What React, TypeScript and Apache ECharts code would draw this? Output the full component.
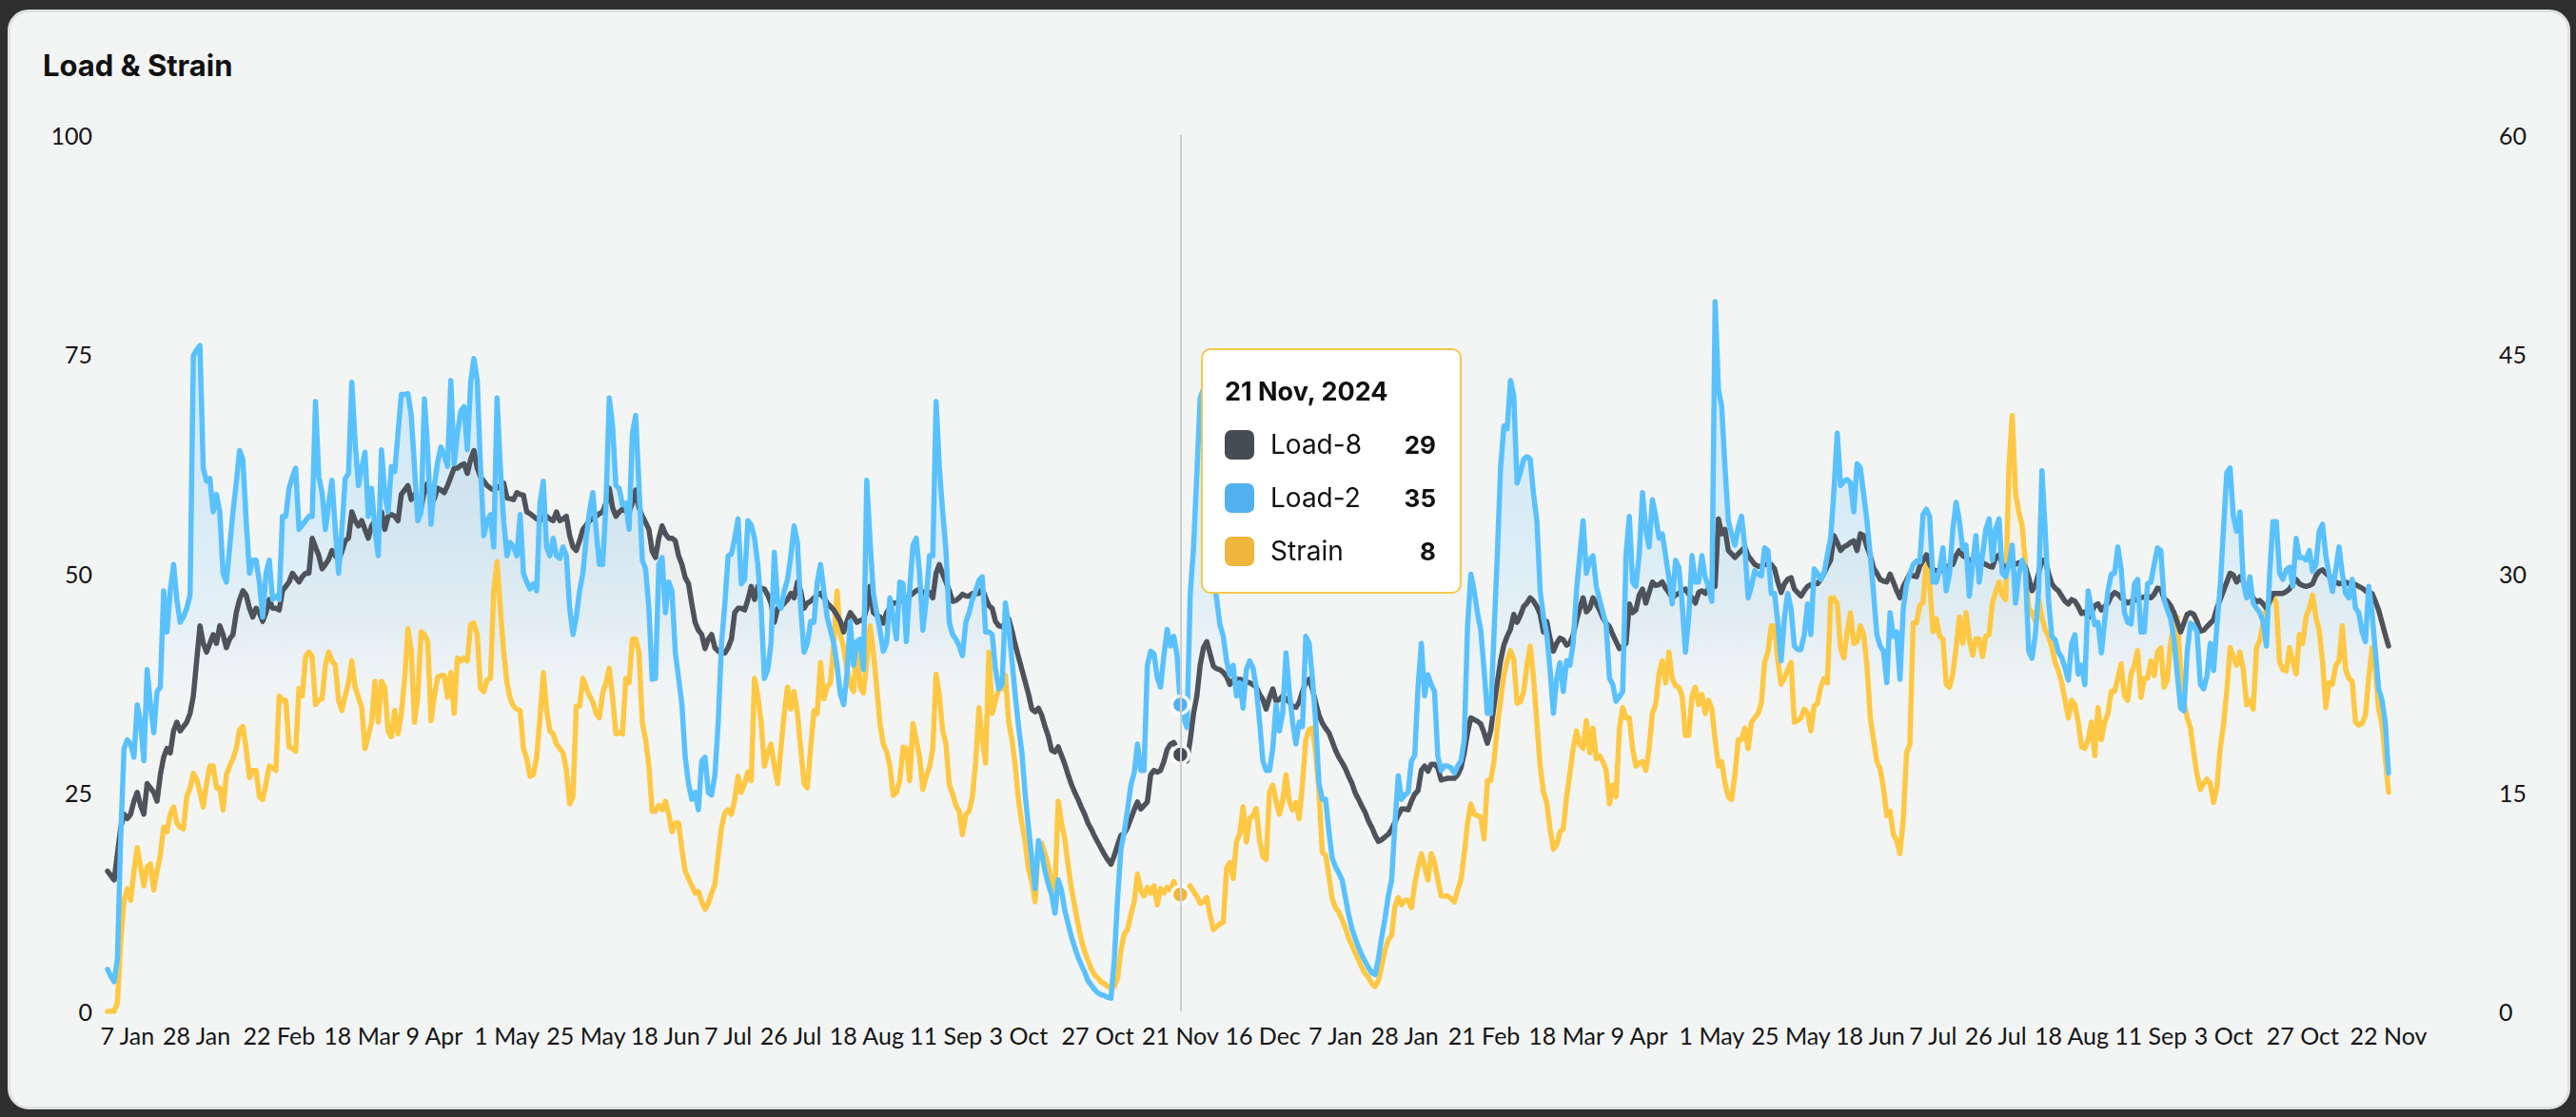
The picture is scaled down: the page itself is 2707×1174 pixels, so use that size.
import React, { useEffect, useRef } from "react";
import * as echarts from "echarts";

// ---------- DATA ----------
const START_DATE = "2024-01-01";

const LOAD8: number[] = [
  // 2024-01-01 .. 2024-04-21 (0-111)
  16,15.5,15,18,21,22.5,22,22.5,24,25, 23.5,22.5,26,25.5,25,24,27,29,30,29.5,
  32,33,32,32.5,33,34,36,40,44,42, 41,42,43,42,44,43,41.5,42.5,43,45.5,
  47,48,47.5,46,45,46,45.5,44.5,45.5,47, 46,46,45.8,48,48.5,49,50,49.5,49,49.6,
  50,50,54,53,52,50.5,51,51.6,52.6,52, 51.5,52.5,53.7,54,57,56,55.4,56,55,54,
  55.4,56,56,57,55,56.5,56.7,56.5,56,59, 59.5,60,58.4,59,58.5,57.5,59.5,60.3,58,58.5,
  59.7,59.5,59.2,60,61,62,62,62.3,62.5,61.4, 63,64,
  // 112-229
  62,61,60.5,60,59.7,59.5,59.7,60,60.3,58.6, 58.5,58.4,59.2,59,58.9,57,56.8,56.5,56.2,56,
  56.7,56.5,56.2,56,57,56,56.2,56.5,54.3,53, 52.6,53.7,55,55.5,56,56.3,56.5,56.8,57,58,
  59.7,57.5,56.5,57,57.3,57.1,57,58,59.5,57.5, 56.5,55.8,55,52.5,51.8,54,55.4,54.5,54,54,
  53.7,52,51,49.5,48.8,46.5,44.4,43.5,43,41.4, 42.5,43,41.5,41.1,41,40.9,41.5,42.5,45.5,46,
  46,45.8,47,48.5,47,48.5,48.3,48.2,47.5,46.6, 44.4,46,46.2,46.6,47,47.7,47.2,49,48,46,
  46.6,46.8,47.2,47.5,47.7,47.2,46.6,46.2,45.8,45.2, 44.5,43.3,44.5,45.5,45,44.4,44.6,44.7,
  // 230-345
  46,48.5,45.5,45.2,45,44.3,45.5,46,46.6,46.6, 46.8,47.2,47.2,47.4,47.7,48,48.2,47.7,48,47.8,
  47.2,50,51,49.9,49,48,46.8,46.9,47.2,47.6, 47.4,47.4,47.7,47.7,47.7,48.2,47.2,46.3,46,44.5,
  44,43.9,44.2,44.8,43.4,41.8,40.4,39,37.6,36.2, 34.5,34.2,34.6,33.8,32.5,31.4,29.8,29.6,30.2,29.2,
  28.2,27,25.9,25,24.2,23.3,22.5,21.5,20.8,20, 19.3,18.6,17.9,17.3,16.8,17.8,19,20.1,20.3,21,
  22,23,23.9,23.1,23.5,23.9,27,27.5,27.3,27.5, 28.5,29.9,30.5,30.7,29.9,29.3,29.5,28.6,31,34,
  36,39.5,41.5,42.2,40.8,39.4,39.1,39,38.7,38.2, 37.3,37.8,37.9,37.9,37.8,37.6,
  // 346-460
  37.5,37.3,37,36.2,35.6,34.5,35.8,36.8,35.4,35.6, 36,35.7,35.3,34.8,34.7,35.3,36.5,37.5,37.9,36.8,
  35.2,33.8,32.9,32.3,31.8,30.8,29.8,29,28.4,27.7, 26.8,26,24.9,24.2,23.4,22.7,21.7,21,20.1,19.4,
  19.6,19.9,20.2,20.8,21.6,22.4,23.1,23.1,23,24, 24.8,25.2,27.5,28,27.4,28.2,28.2,27.8,26.4,26.5,
  26.6,26.6,26.6,27,27.8,29.5,31.8,33.5,33.3,33.1, 32.8,31.8,30.6,32,34.8,37.5,40,41.8,42.8,43.6,
  45.3,44.4,45.2,46.2,46.6,47.2,46.8,46.2,45.3,43.3, 44.5,42.5,41.1,42,42.6,42.4,41.8,42,43,44.6,
  46,47.2,45.6,46,47.2,46.5,45.8,44.9,44.3,43.9, 43,42.2,41.4,41.6,42,
  // 461-576
  46.5,45.5,45.8,47.5,48.2,46.6,47.8,49,48.6,48.7, 49,48.3,47.8,47.2,47.5,47.7,48,48.2,47.6,47.2,
  46.6,47.8,48,47.7,48.3,48.8,48.5,56.2,54.5,55, 52.6,52.2,51.8,52.2,52.6,53,52,51.5,51,50.8,
  50.8,51,51,51,50.5,49,47.8,48.8,49.3,49.5, 48.2,47.8,47.4,48,48.5,48.7,48.8,48.8,49.3,50,
  50.8,51.5,54.3,53.5,52.6,53,53.2,53.5,53.7,52.6, 54.5,54.3,53,52,50.6,50,49.3,49.1,49,49.9,
  49,48,47.2,48.5,49.2,49.9,49.7,49.6,50.8,51.5, 52.1,51,50.4,50.3,50.2,50.5,50.7,50.9,51,52,
  52.6,52,51.8,51.5,51.3,51.5,51.4,51.2,51,50.8, 50.7,51.8,52.1,51,50.4,51,
  // 577-691
  51.3,51,51.2,51,50.7,49.5,48,48.6,50,51.5, 51.5,50,48.8,48.3,48,47.4,46.8,46.5,47,46.8,
  46.2,45.4,45.6,44.9,45.5,46.3,46.5,45.8,46.2,46.6, 47.4,47.8,47.6,47.2,46.9,46.6,46.8,46.9,47.1,47.2,
  47.3,47.4,47.2,47.6,48.3,48.2,47.1,46.8,46.3,45.5, 44.4,43.3,44.3,45.3,45.5,45.3,44.5,43.4,43.5,43.9,
  44.3,44.7,46,47,48,49,50,49.8,49,49.6, 49,48.1,47.7,47.2,46.7,46.9,46.5,46,46.8,47.7,
  47.7,47.7,47.7,47.9,48.2,48.8,49.3,48.8,48.6,48.5, 48.6,48.8,49.7,50.2,50.4,50,49.7,49.3,49,48.8,
  48.9,49,48.8,48.8,48.7,48.5,48.3,48,47.7,47.7, 46.8,45.8,44.4,43,41.7,
];

const LOAD2: number[] = [
  // 0-111
  4.8,4,3.4,6,20,30,31,30.5,29,35, 33,28.6,39,35,31.8,36.5,37,48,43.3,48,
  51,47,44.4,45,46,47.5,74.8,75.5,76,62, 60.5,60.8,57,59,57,50,49,53,57,60.3,
  64,63,56,50,51.5,51.5,49,45,50,51.5, 47,47.4,47,56.5,56.5,59.7,61,62,55,55.5,
  56,56.5,56.5,69.6,61,59.2,55,58,60.6,55, 50,55,60.8,61.4,71.8,65,60,62,63.8,56.5,
  59.7,55,52,64.1,59,57,62.2,61.6,66,70.4, 70.4,70.5,68,62,56,57,69.9,64,55.6,60,
  62.7,64.4,63.5,62.2,72,62.5,66,68.5,69,64.1, 71.8,74.5,
  // 112-229
  72,62,54.3,56,56.7,53,70,62,56,52, 53.5,53,52,56.7,50,49,48.2,48.8,48,58,
  60.5,53,52,54,52,51.7,53,52,46,43, 45,48,50,54,57,59.2,55,51,51,58,
  70,66.8,60,59.7,57.8,58,55,66,68,60, 51.5,50.5,46,37.9,38,51,51.8,45.5,49,48,
  41,38,35,29,26,24.2,25,23,28.6,29, 25,24.7,27,33,42,46.5,52,52.2,54,56.2,
  48.8,49.3,56,55.5,54,51,46,38,39,42, 52.4,46.6,46,48,49.3,52,55.4,53.5,46,41,
  42,44.5,44.4,49,51,48,45,43.5,42,39.5, 36.2,35,38.5,44.5,39.5,42.2,42.5,39,
  // 230-345
  60.6,53.7,47.7,45.5,43.5,41.1,42,47.2,45,42.5, 49,48.8,42.2,48.2,53.2,54,50,43.5,47,52,
  52,69.6,62,57,52.6,44.4,43,42.5,41.7,40.6, 44.4,45.5,47,48,49.2,49.6,43.3,43.3,43,39,
  36.8,37.3,46.6,44,40,36,32.5,29.5,24.7,21, 17.5,14,19.5,18,16,14.5,13.3,11.2,15,13.8,
  11.5,10,8.5,7.3,6.2,5.3,4.5,3.5,3,2.5, 2.1,1.9,1.8,1.6,1.5,6,13,18.5,20.5,23,
  25.8,27.2,30.5,27.5,27.5,39.5,41.1,40.8,38.1,37, 40.6,43.6,41.7,42.8,40.6,35,33.5,32.4,47.7,53,
  61.4,70,71,62,55,50,47,44.1,42.8,40, 38.4,39.5,36,37.5,34.6,39,
  // 346-460
  40,39.2,37,33,28.6,27.5,27.5,30,35,32, 34,40.9,36.6,33,30.5,33,32.5,42.8,42,38,
  33,26,24.2,24.2,20.5,17.5,16.5,15.8,15,13, 11,9.4,8.3,7.3,6.4,5.7,5,4.4,4.2,6,
  8.5,10.6,13.2,15,21.4,26.9,24.2,24.7,25,28.6, 29.2,37,42,36,38.4,37.3,36.5,29.1,27.5,28,
  28,27.8,27.2,28,28.6,31,44,49.9,48,45.5, 43.5,39,34,34,43,52,62,66.8,66.5,72,
  70.3,60.3,61.5,63,63.3,63,59,56,48,45, 43,39,34,38,39.8,36.5,40,39.5,42,48,
  52,56,50,51.5,52,48.5,47,45.5,44.1,38, 37.3,35.4,35.9,36.5,52,
  // 461-576
  56.5,49,48.5,52.1,59.2,55,53,58.4,56.5,54, 54.5,52,49.5,46.5,51.5,50.7,46.6,41,45,52,
  49,49,52,49.5,48.5,46.8,81,71,69,62, 56,54.5,53.2,55.2,56.5,53,47.2,48.5,50.3,49.9,
  49.7,52.9,52.6,47.7,47.7,44.4,40,45,47.7,46, 41.7,41.3,41.3,43,46.5,43,50.5,50,49.3,50,
  52.1,54,59.5,66,60,60.5,60.7,60.3,57,62.5, 62,59,56,52,47.7,43,41.7,41.1,37.5,45.5,
  42.8,43.3,37.9,46,48.8,49.9,51,51.4,51.3,56.7, 57.3,56.5,49,49,50.4,52.9,48,49.9,55,58.1,
  56,52.8,53.2,47.4,51,54.3,49,52.1,55,56.2, 51.5,55.1,56.2,50,49.6,51,
  // 577-691
  53.2,46.6,49.9,51.5,50.4,41.1,40.3,43,48,61.7, 54.8,47,42.8,42.4,41,40.4,39.2,37.8,42,43,
  38.5,39.5,37.3,48,46,44.1,44.4,40.9,44.5,48, 49.9,50,53,50.5,45.5,44.4,44.2,48.8,49.3,43.3,
  43.3,48.8,49,51,52.9,52.6,47,45.8,44.8,42.5, 38.5,34.6,34.3,41,44.3,44,43.3,37.3,36.8,38.3,
  42,38.9,44,48.5,55,61.5,62,56.5,54.8,57, 49,47.2,49.6,46.6,46,45.5,44.5,41.7,50,55.9,
  55.9,50,49.3,50.4,50.7,48.5,54,51.8,51.8,51.5, 52.6,50.2,51,54.8,55.6,52,49.9,47.9,50.4,53,
  50,47.7,47.2,49.3,46,45.5,43.3,42.2,48.5,45.5, 41.1,36.8,35.6,33,27.2,
];

const STRAIN: number[] = [
  // 0-111
  0,0,0,0.6,4.8,7.6,8.4,7.6,9.6,11.2, 9.9,8.6,9.9,10.1,8.3,9.6,10.7,12.6,12.3,13.5,
  14,12.9,12.6,12.5,14.7,15.3,16.3,15.9,15,14, 15.6,16.8,16.8,15.3,15.3,13.8,16.2,16.8,17.3,18,
  19.3,19.5,18,16,16.5,16.5,14.7,14.5,15.6,16.8, 16.7,16.5,21.6,21.3,21.3,18.1,18,17.8,22.1,21.6,
  24.3,24.6,24.3,21,21.3,21.4,23.7,24.6,24,23.7, 21.3,20.6,21.6,22.5,24,22.2,21.5,20.8,18,18.9,
  19.8,22.6,19.8,22.6,22.2,19.2,18.8,20.6,19,20.4, 22.7,26.2,24.7,19.8,21.6,26,25.8,25.3,19.9,21.6,
  22.9,23,23,21.5,23.2,20.4,24.2,24,24.2,24, 26.5,26.6,
  // 112-229
  25.8,22.1,21.9,22.7,22.8,28.8,30.8,27.6,24.6,22.5, 21.4,20.9,20.7,20.6,18,17.3,16.1,16.2,17.4,20.1,
  23.2,20.7,19.2,19,18.3,18,17.7,16.5,14.2,14.7, 20.9,20.9,22.8,22.2,21.6,21.2,20.4,20.1,21.8,22.5,
  23.5,21.5,19,19.1,19,22.8,22.5,25.5,25.5,24.6, 19.8,18.6,16.8,13.7,13.7,14.1,13.8,14.4,13.5,12.3,
  12.9,12.9,11.1,9.6,9.1,8.6,8.1,8.2,7.5,7, 7.4,8.1,8.7,10.7,12.6,13.6,13.8,13.5,14.5,16.1,
  15,15.6,16.4,15.8,22.8,21.6,19.8,16.8,17.7,18.3, 16.8,15.6,18,20.4,22.2,20.7,21.9,20.4,18,15.6,
  15.3,18,20.6,20.4,23.9,21.4,22.2,22.5,25.2,28.8, 25.8,24.9,23.4,22.4,21.9,25.2,22.2,21.8,
  // 230-345
  24,26.4,24.6,22.2,19.7,18.3,17.8,16.8,14.8,15, 15.8,18.1,18,15.8,19.7,18.6,17.4,15.2,16.1,16.7,
  18,23.1,21.6,19.2,18.3,15.5,14.9,14.1,13.7,12.1, 13.5,13.7,14.7,17.1,20.8,18.6,17,24.6,20.4,21.3,
  22.1,22.1,23,19.8,18.6,16.8,14.4,12.9,11.6,9.7, 8.9,7.5,11.4,11.5,10.8,9.9,8.8,8.3,14.4,12.9,
  11.8,10,8.4,7.2,6,4.9,4.1,3.5,2.9,2.5, 2.3,2,1.9,1.7,1.6,1.7,2.3,4.2,5.3,5.6,
  6.6,7.5,9.4,8.3,7.9,8.5,8.1,8.6,7.3,8.4, 8.1,8.5,8.3,8.9,8.3,8,7.9,8.3,8.6,8.2,
  7.9,7.4,7.5,7.8,6.6,5.6,5.8,6,6.1,9.8, 10.2,9.1,11.6,12.2,14,11.6,
  // 346-460
  13.2,13.4,13.9,11.7,10.6,10.4,15,15.5,14.4,13.5, 14.4,16.2,14.4,13.8,14.3,13.2,15.6,18.6,19.3,19.4,
  17.7,15,10.9,10.7,9.3,7.7,7.1,6.8,6.3,5.7, 5,4.5,4,3.5,3,2.6,2.3,1.9,1.7,2.1,
  3.1,4.2,4.9,5.2,7.2,7.8,7.3,7.6,7.6,7.1, 8.7,9.9,10.8,9.9,9,10.8,10.2,9,7.9,7.9,
  7.9,7.7,7.5,8.3,9,10.8,12.9,14.2,13.5,13.4, 13.3,11.8,15.8,15.8,17.1,19.4,21.3,23,24,24.7,
  24.1,21.1,21.2,21.9,23.7,25,22.8,19.8,16.8,15, 14.3,12.5,11.1,11.4,12.3,12.5,14.7,16.3,18,19.2,
  18.3,18,19.9,17.7,19.4,17.3,17.5,17.1,16.5,14.2, 15.5,14.7,19.4,20.8,20.1,
  // 461-576
  20.1,18,16.8,17,17.1,16.5,18,20.4,21,23.1, 24,22.5,24.6,22.8,22.3,22.2,21.6,18.9,18.9,21.6,
  22.2,21,21.7,20.4,21.3,20.7,18.6,16.8,17.1,15.6, 14.7,14.5,16.2,18.6,18.6,19.4,18,19.8,20.1,20.4,
  21.1,23.9,24.6,26.4,26.4,24,22.4,22.8,23.4,23.9, 19.8,19.9,20.1,20.7,20.4,19.2,20.9,21.1,22.2,22.8,
  22.5,28.3,28.3,27.9,24.9,24.2,26,27.3,25.2,25.3, 26.4,25.8,23.7,20.1,18.6,17.1,16.6,15.3,13.4,13.7,
  12.1,11.7,10.8,13.2,17.7,18.3,26.6,26.6,27.8,28, 30.9,29.3,26,26.9,25.7,25.5,22.4,22.2,23.1,24.9,
  27,25.2,27.3,25.5,24.4,25.5,25.5,24.3,25.7,25.8, 28,28.7,29.4,28.5,28.2,37.2,
  // 577-691
  40.8,35.5,34.2,33.3,30.6,27.6,27.3,26.7,28.2,27, 26.1,25.7,24.9,23.9,23.3,22.5,21.3,20.1,21.3,21,
  19.8,18.1,18,18.6,19.8,17.5,20.8,18.6,19.8,20.4, 21.9,21.9,22.8,23.8,21.6,21.3,23.1,23.7,24.7,21.5,
  22.8,22.8,24,23,24.6,24.9,22.2,22.7,25.3,26.6, 27,23.4,21.2,20.1,19.4,17.7,16.2,15.2,15.6,15.9,
  15.6,14.3,15.3,18,19.6,21.9,24.9,24.3,23.7,24.6, 23.4,21,21.3,20.7,24.9,25.4,26.7,27.6,28,28.5,
  27.9,23.9,23.4,23.3,24.9,24,23.1,25.8,25.2,27, 27.6,28.5,27,26.1,24,20.8,22.5,22.4,23.7,24,
  26.4,23.4,22.8,22.6,19.8,19.6,19.7,20.3,22.8,24.9, 23.4,20.7,19.7,17.4,15,
];

const TICK_DATES: string[] = [
  "2024-01-07","2024-01-28","2024-02-22","2024-03-18","2024-04-09","2024-05-01",
  "2024-05-25","2024-06-18","2024-07-07","2024-07-26","2024-08-18","2024-09-11",
  "2024-10-03","2024-10-27","2024-11-21","2024-12-16","2025-01-07","2025-01-28",
  "2025-02-21","2025-03-18","2025-04-09","2025-05-01","2025-05-25","2025-06-18",
  "2025-07-07","2025-07-26","2025-08-18","2025-09-11","2025-10-03","2025-10-27","2025-11-22",
];
const LEFT_AXIS = { min: 0, max: 100, step: 25 };
const RIGHT_AXIS = { min: 0, max: 60, step: 15 };
const TOOLTIP_DATE = "2024-11-21";
const SERIES_NAMES = ["Load-8", "Load-2", "Strain"];

// ---------- helpers ----------
const MONTHS = ["Jan","Feb","Mar","Apr","May","Jun","Jul","Aug","Sep","Oct","Nov","Dec"];
function buildDates(start: string, n: number): string[] {
  const [y, m, d] = start.split("-").map(Number);
  const out: string[] = [];
  for (let i = 0; i < n; i++) {
    out.push(new Date(Date.UTC(y, m - 1, d + i)).toISOString().slice(0, 10));
  }
  return out;
}
const fmtShort = (iso: string) => {
  const [, m, d] = iso.split("-").map(Number);
  return `${d} ${MONTHS[m - 1]}`;
};
const fmtLong = (iso: string) => {
  const [y, m, d] = iso.split("-").map(Number);
  return `${d} ${MONTHS[m - 1]}, ${y}`;
};

const C_LOAD8 = "#474B53";
const C_LOAD2 = "#52B0EE";
const C_STRAIN = "#EFB63E";
const FONT = "Inter, 'Noto Sans', sans-serif";
const AXIS_FONT = "Lato, Inter, sans-serif";
const LW = 5.5;

export default function App() {
  const ref = useRef<HTMLDivElement>(null);

  useEffect(() => {
    if (!ref.current) return;
    const chart = echarts.init(ref.current, null, { renderer: "svg" });
    const dates = buildDates(START_DATE, LOAD8.length);
    const tickSet = new Set(TICK_DATES);
    const tipIndex = dates.indexOf(TOOLTIP_DATE);
    const colors: Record<string, string> = { "Load-8": C_LOAD8, "Load-2": C_LOAD2, Strain: C_STRAIN };

    const grad = (rgb: string, stops: [number, number][]) =>
      new echarts.graphic.LinearGradient(0, 0, 0, 1,
        stops.map(([o, a]) => ({ offset: o, color: `rgba(${rgb},${a})` })));

    const symbolCommon = (c: string) => ({
      symbol: "circle",
      symbolSize: 16,
      showSymbol: false,
      itemStyle: { color: c, borderColor: "#ffffff", borderWidth: 3 },
    });

    // marker dot at the tooltip date, drawn from the series' own data
    const tipDot = (c: string, arr: number[]) =>
      tipIndex >= 0
        ? {
            silent: true,
            symbol: "circle",
            symbolSize: 18,
            label: { show: false },
            itemStyle: { color: c, borderColor: "#ffffff", borderWidth: 3.5 },
            data: [{ coord: [TOOLTIP_DATE, arr[tipIndex]] }],
          }
        : undefined;

    const axisLabelStyle = { color: "#141414", fontSize: 25, fontFamily: AXIS_FONT };

    chart.setOption({
      animation: false,
      textStyle: { fontFamily: FONT },
      title: {
        text: "Load & Strain",
        left: 45,
        top: 53,
        padding: 0,
        textStyle: { fontFamily: FONT, fontSize: 31, fontWeight: 700, color: "#111111" },
      },
      grid: { left: 113, right: 197, top: 142, bottom: 111 },
      xAxis: {
        type: "category",
        data: dates,
        boundaryGap: false,
        axisLine: { show: false },
        axisTick: { show: false },
        splitLine: { show: false },
        axisLabel: {
          ...axisLabelStyle,
          interval: (_i: number, v: string) => tickSet.has(v),
          formatter: (v: string) => fmtShort(v),
          margin: 12,
        },
      },
      yAxis: [
        {
          type: "value",
          min: LEFT_AXIS.min,
          max: LEFT_AXIS.max,
          interval: LEFT_AXIS.step,
          axisLine: { show: false },
          axisTick: { show: false },
          splitLine: { show: false },
          axisLabel: { ...axisLabelStyle, margin: 16 },
        },
        {
          type: "value",
          position: "right",
          min: RIGHT_AXIS.min,
          max: RIGHT_AXIS.max,
          interval: RIGHT_AXIS.step,
          axisLine: { show: false },
          axisTick: { show: false },
          splitLine: { show: false },
          axisLabel: { ...axisLabelStyle, margin: 116 },
        },
      ],
      tooltip: {
        trigger: "axis",
        triggerOn: "none",
        alwaysShowContent: true,
        transitionDuration: 0,
        position: [1262, 366],
        padding: 0,
        backgroundColor: "#ffffff",
        borderColor: "#F2C94C",
        borderWidth: 2,
        extraCssText: "border-radius:10px;box-shadow:none;",
        axisPointer: {
          type: "line",
          animation: false,
          lineStyle: { color: "#CDCFCF", width: 2, type: "solid" },
          label: { show: false },
        },
        formatter: (params: any) => {
          const p = Array.isArray(params) ? params : [params];
          const date = p[0].axisValue;
          const val = (n: string) => {
            const it = p.find((q: any) => q.seriesName === n);
            return it ? Math.round(Number(it.value)) : "";
          };
          const rows = SERIES_NAMES.map(
            (n) =>
              `<div style="display:flex;align-items:center;height:56px">` +
              `<span style="display:inline-block;width:31px;height:31px;border-radius:7px;background:${colors[n]}"></span>` +
              `<span style="margin-left:17px;flex:1;font-size:28px;font-weight:400;color:#111">${n}</span>` +
              `<span style="font-size:26px;font-weight:700;color:#111">${val(n)}</span></div>`
          ).join("");
          return (
            `<div style="box-sizing:content-box;width:222px;padding:28px 25px 15px 23px;font-family:${FONT};color:#111;white-space:nowrap">` +
            `<div style="font-size:27px;font-weight:700;line-height:32px;margin-bottom:11px">${fmtLong(date)}</div>` +
            rows +
            `</div>`
          );
        },
      },
      series: [
        {
          name: "Strain",
          type: "line",
          yAxisIndex: 1,
          data: STRAIN,
          ...symbolCommon(C_STRAIN),
          lineStyle: { color: C_STRAIN, width: LW, join: "round", cap: "round" },
          areaStyle: { color: grad("239,182,62", [[0, 0.22], [0.44, 0], [1, 0]]) },
          emphasis: { scale: false, focus: "none", lineStyle: { width: LW } },
          markPoint: tipDot(C_STRAIN, STRAIN),
        },
        {
          name: "Load-8",
          type: "line",
          yAxisIndex: 0,
          data: LOAD8,
          ...symbolCommon(C_LOAD8),
          lineStyle: { color: C_LOAD8, width: LW, join: "round", cap: "round" },
          areaStyle: { color: grad("71,75,83", [[0, 0.1], [0.42, 0], [1, 0]]) },
          emphasis: { scale: false, focus: "none", lineStyle: { width: LW } },
          markPoint: tipDot(C_LOAD8, LOAD8),
        },
        {
          name: "Load-2",
          type: "line",
          yAxisIndex: 0,
          data: LOAD2,
          ...symbolCommon(C_LOAD2),
          lineStyle: { color: C_LOAD2, width: LW, join: "round", cap: "round" },
          areaStyle: {
            color: grad("82,176,238", [[0, 0.34], [0.3, 0.25], [0.45, 0.13], [0.56, 0], [1, 0]]),
          },
          emphasis: { scale: false, focus: "none", lineStyle: { width: LW } },
          markPoint: tipDot(C_LOAD2, LOAD2),
        },
      ],
    });

    if (tipIndex >= 0) {
      chart.dispatchAction({ type: "showTip", seriesIndex: 2, dataIndex: tipIndex });
    }

    return () => chart.dispose();
  }, []);

  return (
    <div style={{ position: "fixed", left: 0, top: 0, width: 2707, height: 1174, background: "#2f2f2f", overflow: "hidden" }}>
      <div
        style={{
          position: "absolute",
          left: 8,
          top: 10,
          width: 2693,
          height: 1156,
          boxSizing: "border-box",
          border: "3px solid #DDE0E0",
          borderRadius: 22,
          background: "#F3F5F5",
        }}
      />
      <div ref={ref} style={{ position: "absolute", left: 0, top: 0, width: 2707, height: 1174 }} />
    </div>
  );
}
